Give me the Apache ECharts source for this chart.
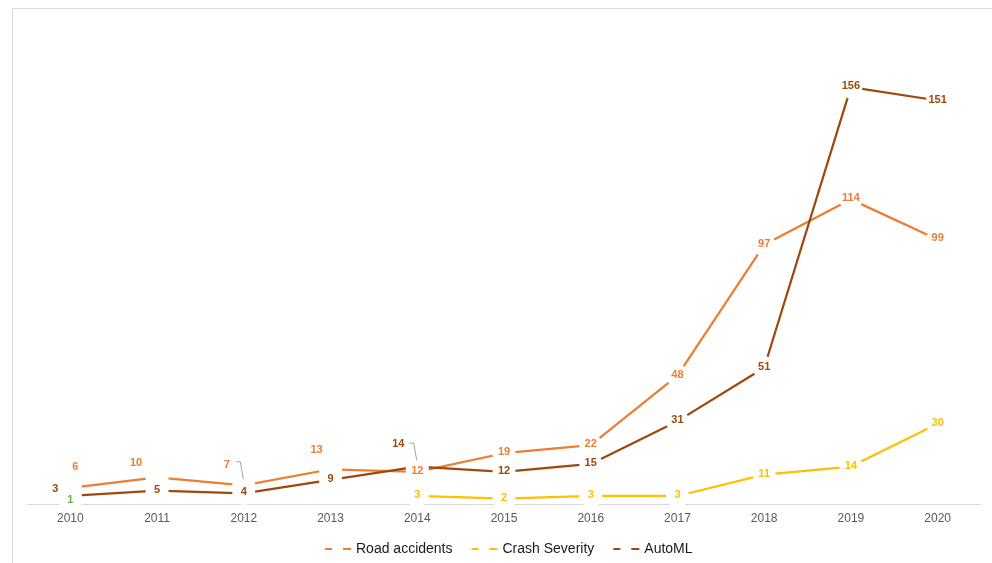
<!DOCTYPE html>
<html><head><meta charset="utf-8">
<script src="https://cdn.jsdelivr.net/npm/echarts@6/dist/echarts.min.js"></script>
<style>html,body{margin:0;padding:0;background:#fff}#c{width:992px;height:563px}</style>
</head><body><div id="c"></div>
<script>
const years = ['2010','2011','2012','2013','2014','2015','2016','2017','2018','2019','2020'];
const roadAccidents = [6,10,7,13,12,19,22,48,97,114,99];
const crashSeverity = [1,null,null,null,3,2,3,3,11,14,30];
const autoML = [3,5,4,9,14,12,15,31,51,156,151];

const seriesDefs = [
  {name:'Road accidents', data:roadAccidents, color:'#ED7D31', offsets:{0:[5,-21],1:[-21,-14],2:[-17,-20],3:[-14,-19]}, colors:{}},
  {name:'Crash Severity', data:crashSeverity, color:'#FFC000', offsets:{}, colors:{0:'#70AD47'}},
  {name:'AutoML', data:autoML, color:'#9E480E', offsets:{0:[-15,-7],4:[-19,-23]}, colors:{}}
];
const leaders = [{series:0, index:2}, {series:2, index:4}];

const chart = echarts.init(document.getElementById('c'), null, {renderer:'canvas'});
const lineSeries = seriesDefs.map(s => ({
  name:s.name, type:'line', data:s.data.map(v => v==null?'-':v),
  showSymbol:false, symbol:'none', lineStyle:{color:s.color, width:2.25}, itemStyle:{color:s.color},
  z:2, silent:true, connectNulls:false
}));
const pointSeries = seriesDefs.map(s => ({
  type:'scatter', z:5, silent:true,
  symbol:'circle', symbolSize:23, itemStyle:{color:'#ffffff', opacity:1},
  data:s.data.map((v,i) => {
    if (v==null) return '-';
    const o = s.offsets[i] || [0,-1];
    return {value:v, label:{offset:o, color:s.colors[i] || s.color}};
  }),
  label:{show:true, position:'inside', formatter:'{c}', fontFamily:'Liberation Sans', fontSize:11, fontWeight:'bold', color:s.color}
}));

chart.setOption({
  animation:false,
  backgroundColor:'#ffffff',
  grid:{left:27, right:11, top:23, bottom:59, containLabel:false},
  xAxis:{type:'category', data:years, boundaryGap:true,
    axisLine:{show:true, lineStyle:{color:'#D9D9D9', width:1}}, axisTick:{show:false},
    axisLabel:{color:'#595959', fontFamily:'Liberation Sans', fontSize:12, margin:9}},
  yAxis:{type:'value', min:0, max:180, show:false, splitLine:{show:false}},
  legend:{data:seriesDefs.map(s=>s.name), left:320, top:537, itemGap:19, itemWidth:26, itemHeight:2,
    icon:'path://M0,0H7V2H0Z M18,0H26V2H18Z',
    textStyle:{color:'#1a1a1a', fontFamily:'Liberation Sans', fontSize:14}},
  series:lineSeries.concat(pointSeries)
});

const g = [{type:'rect', shape:{x:12.5, y:8.5, width:1000, height:600}, style:{fill:'none', stroke:'#D9D9D9', lineWidth:1}, z:0}];
leaders.forEach(l => {
  const v = seriesDefs[l.series].data[l.index];
  const p = chart.convertToPixel({gridIndex:0}, [l.index, v]);
  g.push({type:'polyline', shape:{points:[[p[0]-8,p[1]-23.5],[p[0]-3.5,p[1]-23.5],[p[0]-0.5,p[1]-6]]},
    style:{fill:'none', stroke:'#A6A6A6', lineWidth:1}, z:10});
});
chart.setOption({graphic:g});
</script></body></html>
